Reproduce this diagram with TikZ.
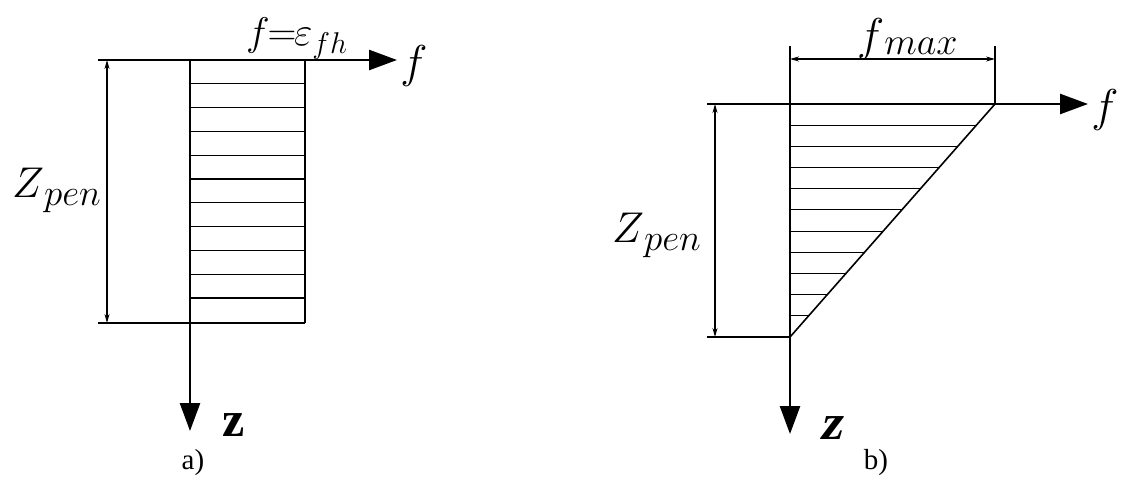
\RequirePackage{fix-cm}
\documentclass[tikz,border=0pt]{standalone}
\usepackage{fontspec}
\setmainfont{Liberation Serif}
\newfontfamily\zslantfont{Liberation Serif}[FakeSlant=0.22]
\usetikzlibrary{arrows.meta}
\tikzset{
  axisline/.style={line width=2.6pt,-{Triangle[length=28pt,width=20pt]}},
  boldline/.style={line width=2.2pt},
  thinline/.style={line width=1.1pt},
  hatchline/.style={line width=1.1pt},
  dimline/.style={line width=1.1pt,{Stealth[length=9pt,width=5pt]}-{Stealth[length=9pt,width=5pt]}},
  lbl/.style={inner sep=0pt,font=\fontsize{46}{46}\selectfont},
  captxt/.style={inner sep=0pt,font=\fontsize{29}{29}\selectfont},
  zlbl/.style={inner sep=0pt,font=\fontsize{50}{50}\selectfont\bfseries}
}
\newcommand{\zpenlabel}{\fontsize{43}{43}\selectfont$Z$\raisebox{-0.2em}{\fontsize{37}{37}\selectfont$pen$}}
\begin{document}
\begin{tikzpicture}[x=1pt,y=-1pt]
\useasboundingbox[fill=white] (0,0) rectangle (1126,479);
% ---------- panel a ----------
\coordinate (aO) at (190,60);
\coordinate (aX) at (397,60);
\coordinate (aZ) at (190,431);
\coordinate (aL) at (98,60);
\coordinate (aTR) at (305,60);
\coordinate (aBR) at (305,323);
\coordinate (aBL) at (98,323);
\coordinate (aB) at (190,323);
\coordinate (aDt) at (107,60);
\coordinate (aDb) at (107,323);
\foreach \i in {1,...,10}{
  \draw[hatchline] (190,60+\i*23.8) -- (305,60+\i*23.8);
}
\draw[thinline] (aL) -- (aO);
\draw[thinline] (aBL) -- (aBR);
\draw[boldline] (aTR) -- (aBR);
\draw[dimline] (aDt) -- (aDb);
\draw[axisline] (aO) -- (aX);
\draw[axisline] (aO) -- (aZ);
\node[lbl] (afx) at (414,66) {$f$};
\node[lbl,anchor=base west,font=\fontsize{40}{40}\selectfont] (afe) at (246,45) {$f\!\!=\!\!\varepsilon$\raisebox{-0.2em}{\fontsize{30}{30}\selectfont$fh$}};
\node[lbl,anchor=base west] (azpen) at (12,197) {\zpenlabel};
\node[zlbl] (az) at (234,425) {z};
\node[captxt] (acap) at (193,463) {a)};
% ---------- panel b ----------
\coordinate (bO) at (790,104);
\coordinate (bX) at (1088,104);
\coordinate (bZ) at (790,434);
\coordinate (bL) at (707,104);
\coordinate (bB) at (790,337);
\coordinate (bBL) at (707,337);
\coordinate (bTR) at (995,104);
\coordinate (bDt) at (715,104);
\coordinate (bDb) at (715,337);
\coordinate (bV1) at (790,46);
\coordinate (bV2) at (995,46);
\coordinate (bH1) at (790,59);
\coordinate (bH2) at (995,59);
\foreach \i in {1,...,10}{
  \pgfmathsetmacro{\yy}{104+\i*21.18}
  \pgfmathsetmacro{\xx}{790+(337-\yy)*0.8798}
  \draw[hatchline] (790,\yy) -- (\xx,\yy);
}
\draw[thinline] (bL) -- (bO);
\draw[thinline] (bBL) -- (bB);
\draw[thinline] (bV1) -- (bO);
\draw[thinline] (bV2) -- (bTR);
\draw[dimline] (bH1) -- (bH2);
\draw[dimline] (bDt) -- (bDb);
\draw[line width=1.6pt] (bTR) -- (bB);
\draw[axisline] (bO) -- (bX);
\draw[axisline] (bO) -- (bZ);
\node[lbl] (bfx) at (1105,110) {$f$};
\node[lbl,anchor=base west] (bfmax) at (857,50) {$f$\raisebox{-0.1em}{\fontsize{38}{38}\selectfont$max$}};
\node[lbl,anchor=base west] (bzpen) at (612,242) {\zpenlabel};
\node[zlbl,font=\fontsize{50}{50}\selectfont\zslantfont\bfseries] (bz) at (831,428) {z};
\node[captxt] (bcap) at (876,463) {b)};
\end{tikzpicture}
\end{document}
